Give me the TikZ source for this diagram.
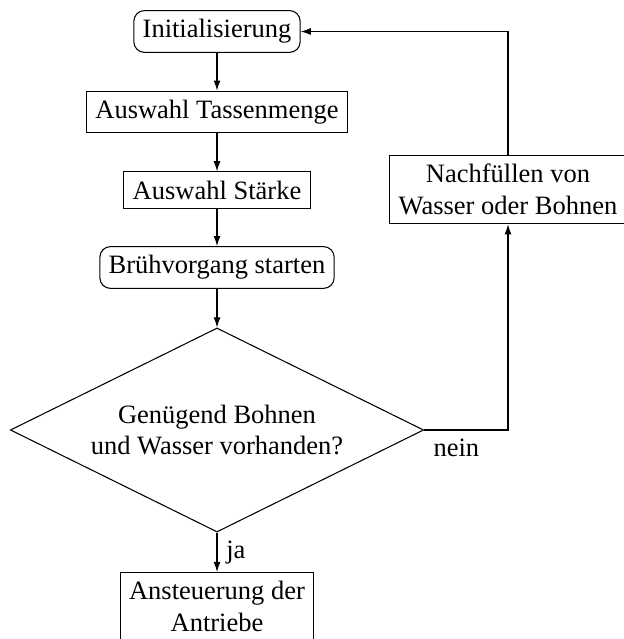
\documentclass[tikz,border=0pt]{standalone}
\usepackage{fontspec}
\setmainfont{Liberation Serif}
\usetikzlibrary{shapes.geometric,arrows.meta}
\begin{document}
\begin{tikzpicture}[x=0.3774pt,y=-0.3774pt,
 base/.style={draw,line width=0.4pt,align=center,font=\rmfamily},
 roundbox/.style={base,rounded corners=4pt},
 plainbox/.style={base},
 decision/.style={base,diamond,aspect=2.02,inner sep=0pt,minimum width=156pt,minimum height=77pt},
 flow/.style={draw,line width=0.4pt,-{Latex[length=3.8pt,width=2.6pt]}},
 lbl/.style={font=\rmfamily}]
\useasboundingbox (0,0) rectangle (623,639);
\node[roundbox] (init) at (217,31.5) {Initialisierung};
\node[plainbox] (tassen) at (217,112) {Auswahl Tassenmenge};
\node[plainbox] (staerke) at (217,190) {Auswahl Stärke};
\node[roundbox] (bruehen) at (217,267.5) {Brühvorgang starten};
\node[decision] (check) at (217,430) {Genügend Bohnen\\und Wasser vorhanden?};
\node[plainbox,anchor=north] (antrieb) at (217,572) {Ansteuerung der\\Antriebe};
\node[plainbox] (nachf) at (508,189.5) {Nachfüllen von\\Wasser oder Bohnen};
\coordinate (loopdown) at (508,430);
\coordinate (looptop) at (508,31.5);
\draw[flow] (init) -- (tassen);
\draw[flow] (tassen) -- (staerke);
\draw[flow] (staerke) -- (bruehen);
\draw[flow] (bruehen) -- (check);
\draw[flow] (check) -- node[lbl,right] {ja} (antrieb);
\draw[flow] (check.east) -- (loopdown) -- (nachf);
\path (check.east) node[lbl,anchor=north west] (neinlbl) {nein};
\draw[flow] (nachf) -- (looptop) -- (init);
\end{tikzpicture}
\end{document}
